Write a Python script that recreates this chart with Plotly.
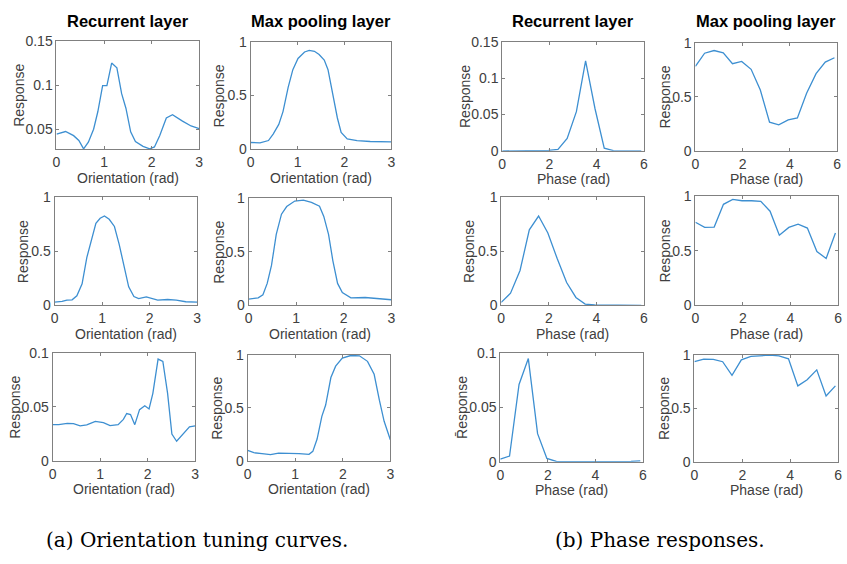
import plotly.graph_objects as go

W, H = 847, 564

# ---------------- data ----------------
# Orientation tuning curves (a)
rec_o1_x = [0, 0.19, 0.36, 0.47, 0.57, 0.67, 0.78, 0.87, 0.97, 1.06, 1.16, 1.27, 1.37, 1.46, 1.56, 1.66, 1.82, 1.96, 2.06, 2.17, 2.31, 2.44, 2.65, 2.83, 3.0]
rec_o1_y = [0.0445, 0.0474, 0.0427, 0.0372, 0.0277, 0.0353, 0.050, 0.0701, 0.0995, 0.0995, 0.125, 0.1196, 0.0903, 0.0738, 0.0471, 0.0361, 0.0306, 0.0277, 0.0299, 0.0427, 0.0628, 0.0665, 0.0592, 0.0537, 0.0507]

max_o1_x = [0, 0.2, 0.38, 0.48, 0.6, 0.69, 0.8, 0.9, 1.01, 1.15, 1.25, 1.36, 1.46, 1.57, 1.65, 1.74, 1.85, 1.93, 2.06, 2.27, 2.55, 3.0]
max_o1_y = [0.06, 0.057, 0.078, 0.139, 0.229, 0.349, 0.575, 0.741, 0.846, 0.907, 0.922, 0.913, 0.883, 0.831, 0.741, 0.53, 0.289, 0.154, 0.093, 0.078, 0.069, 0.066]

rec_o2_x = [0, 0.16, 0.26, 0.37, 0.47, 0.58, 0.68, 0.78, 0.87, 0.96, 1.05, 1.15, 1.26, 1.36, 1.46, 1.56, 1.67, 1.77, 1.93, 2.03, 2.17, 2.38, 2.56, 2.76, 3.0]
rec_o2_y = [0.03, 0.036, 0.048, 0.051, 0.088, 0.2, 0.444, 0.625, 0.76, 0.807, 0.828, 0.798, 0.731, 0.565, 0.353, 0.172, 0.082, 0.063, 0.079, 0.066, 0.048, 0.054, 0.048, 0.033, 0.03]

max_o2_x = [0, 0.2, 0.3, 0.39, 0.48, 0.58, 0.69, 0.8, 0.97, 1.15, 1.32, 1.49, 1.58, 1.68, 1.77, 1.87, 1.97, 2.15, 2.45, 2.73, 3.0]
max_o2_y = [0.058, 0.07, 0.098, 0.205, 0.373, 0.664, 0.853, 0.924, 0.976, 0.985, 0.963, 0.927, 0.832, 0.664, 0.419, 0.205, 0.119, 0.07, 0.073, 0.064, 0.052]

rec_o3_x = [0, 0.13, 0.31, 0.44, 0.58, 0.72, 0.9, 1.07, 1.21, 1.38, 1.49, 1.56, 1.64, 1.73, 1.83, 1.94, 2.03, 2.11, 2.22, 2.32, 2.42, 2.51, 2.61, 2.74, 2.88, 3.0]
rec_o3_y = [0.0335, 0.0335, 0.0347, 0.0344, 0.0323, 0.0332, 0.0366, 0.0353, 0.0326, 0.0335, 0.0384, 0.0438, 0.0429, 0.0335, 0.0474, 0.051, 0.048, 0.0625, 0.0943, 0.0921, 0.0625, 0.0248, 0.0181, 0.0248, 0.0314, 0.0323]

max_o3_x = [0, 0.13, 0.3, 0.48, 0.65, 0.83, 1.08, 1.29, 1.37, 1.46, 1.56, 1.64, 1.75, 1.85, 1.99, 2.17, 2.35, 2.52, 2.66, 2.77, 2.87, 3.0]
max_o3_y = [0.098, 0.076, 0.067, 0.058, 0.073, 0.073, 0.067, 0.061, 0.089, 0.205, 0.419, 0.526, 0.786, 0.893, 0.969, 0.994, 0.991, 0.939, 0.817, 0.572, 0.373, 0.199]

# Phase responses (b)
phase_x = [0, 0.39, 0.79, 1.18, 1.57, 1.96, 2.36, 2.75, 3.14, 3.53, 3.93, 4.32, 4.71, 5.11, 5.50, 5.89]
rec_p1_y = [0, 0, 0, 0, 0, 0.0005, 0.002, 0.017, 0.054, 0.124, 0.058, 0.0036, 0.0003, 0, 0, 0]
max_p1_y = [0.784, 0.905, 0.93, 0.909, 0.808, 0.829, 0.756, 0.564, 0.265, 0.241, 0.287, 0.305, 0.534, 0.716, 0.823, 0.863]
rec_p2_y = [0.027, 0.112, 0.323, 0.70, 0.828, 0.67, 0.429, 0.211, 0.073, 0.012, 0.003, 0.001, 0, 0, 0, 0]
max_p2_y = [0.763, 0.716, 0.719, 0.928, 0.973, 0.961, 0.961, 0.955, 0.865, 0.644, 0.716, 0.746, 0.71, 0.494, 0.431, 0.665]
rec_p3_y = [0.0024, 0.0052, 0.071, 0.0948, 0.0258, 0.003, 0.0003, 0, 0, 0, 0, 0, 0, 0, 0.0003, 0.0008]
max_p3_y = [0.936, 0.96, 0.957, 0.936, 0.808, 0.954, 0.985, 0.988, 0.997, 0.991, 0.963, 0.71, 0.768, 0.86, 0.616, 0.71]

orient_ticks = [0, 1, 2, 3]
phase_ticks = [0, 2, 4, 6]
col_titles = ["Recurrent layer", "Max pooling layer", "Recurrent layer", "Max pooling layer"]
captions = ["(a) Orientation tuning curves.", "(b) Phase responses."]

# ---------------- layout helpers ----------------
LINE = "#3d8fd1"
AX = "#808080"
TXT = "#404040"
FONT = "Liberation Sans, Arial, sans-serif"


def px(x):
    return x / W


def py(y):
    return 1 - y / H


# pixel boxes (left, right, top, bottom)
boxes = [
    [(53, 197, 34, 145), (249, 391, 35, 145), (503, 646, 35, 147), (698, 841, 36, 147)],
    [(51, 195, 195, 306), (247, 391, 196, 306), (502, 646, 195, 306), (698, 842, 194, 306)],
    [(49, 193, 355, 466), (246, 390, 357, 466), (501, 645, 355, 467), (697, 842, 357, 467)],
]
ylab_x = [[15, 218, 466, 667], [20, 217, 470, 667], [11, 215, 463, 667]]

panels = [
    [(rec_o1_x, rec_o1_y, [0.0277, 0.15], [0.05, 0.1, 0.15], ["0.05", "0.1", "0.15"], "Response"),
     (max_o1_x, max_o1_y, [0, 1], [0, 0.5, 1], ["0", "0.5", "1"], "Response"),
     (phase_x, rec_p1_y, [0, 0.15], [0, 0.05, 0.1, 0.15], ["0", "0.05", "0.1", "0.15"], "Response"),
     (phase_x, max_p1_y, [0, 1], [0, 0.5, 1], ["0", "0.5", "1"], "Response")],
    [(rec_o2_x, rec_o2_y, [0, 1], [0, 0.5, 1], ["0", "0.5", "1"], "Response"),
     (max_o2_x, max_o2_y, [0, 1], [0, 0.5, 1], ["0", "0.5", "1"], "Response"),
     (phase_x, rec_p2_y, [0, 1], [0, 0.5, 1], ["0", "0.5", "1"], "Response"),
     (phase_x, max_p2_y, [0, 1], [0, 0.5, 1], ["0", "0.5", "1"], "Response")],
    [(rec_o3_x, rec_o3_y, [0, 0.1], [0, 0.05, 0.1], ["0", "0.05", "0.1"], "Response"),
     (max_o3_x, max_o3_y, [0, 1], [0, 0.5, 1], ["0", "0.5", "1"], "Response"),
     (phase_x, rec_p3_y, [0, 0.1], [0, 0.05, 0.1], ["0", "0.05", "0.1"], "R\u0304esponse"),
     (phase_x, max_p3_y, [0, 1], [0, 0.5, 1], ["0", "0.5", "1"], "Response")],
]

fig = go.Figure()
annotations = []
n = 0
for r in range(3):
    for c in range(4):
        n += 1
        xs, ys, yr, yt, ytt, ylab = panels[r][c]
        L, R, T, B = boxes[r][c]
        xa = "xaxis" if n == 1 else f"xaxis{n}"
        ya = "yaxis" if n == 1 else f"yaxis{n}"
        xref = "x" if n == 1 else f"x{n}"
        yref = "y" if n == 1 else f"y{n}"
        fig.add_trace(go.Scatter(x=xs, y=ys, mode="lines", xaxis=xref, yaxis=yref,
                                 line=dict(color=LINE, width=1.3), showlegend=False,
                                 hoverinfo="skip"))
        is_orient = c < 2
        ticks_x = orient_ticks if is_orient else phase_ticks
        common = dict(showline=True, linecolor=AX, linewidth=1, mirror="ticks",
                      ticks="inside", ticklen=3, tickcolor=AX, showgrid=False,
                      zeroline=False, tickfont=dict(family=FONT, size=14, color=TXT))
        fig.layout[xa] = dict(domain=[px(L), px(R)], anchor=yref,
                              range=[0, 3] if is_orient else [0, 6],
                              tickvals=ticks_x, ticktext=[str(v) for v in ticks_x],
                              **common)
        fig.layout[ya] = dict(domain=[py(B), py(T)], anchor=xref,
                              range=yr, tickvals=yt, ticktext=ytt, **common)
        annotations.append(dict(text="Orientation (rad)" if is_orient else "Phase (rad)",
                                x=px((L + R) / 2), y=py(B + 29.5), xref="paper", yref="paper",
                                showarrow=False, xanchor="center", yanchor="middle",
                                font=dict(family=FONT, size=14, color=TXT)))
        annotations.append(dict(text=ylab, x=px(ylab_x[r][c]), y=py((T + B) / 2),
                                xref="paper", yref="paper", textangle=-90, showarrow=False,
                                xanchor="center", yanchor="middle",
                                font=dict(family=FONT, size=14, color=TXT)))
        if r == 0:
            annotations.append(dict(text="<b>" + col_titles[c] + "</b>", x=px((L + R) / 2),
                                    y=py(13.5), xref="paper", yref="paper", showarrow=False,
                                    xanchor="center", yanchor="middle",
                                    font=dict(family=FONT, size=16.5, color="#000000")))

for text, cx in zip(captions, [195, 662]):
    annotations.append(dict(text=text, x=px(cx), y=py(548), xref="paper", yref="paper",
                            showarrow=False, xanchor="center", yanchor="middle",
                            font=dict(family="DejaVu Serif, serif", size=20, color="#000000")))

fig.update_layout(width=W, height=H, margin=dict(l=0, r=0, t=0, b=0),
                  paper_bgcolor="white", plot_bgcolor="white", annotations=annotations,
                  hovermode=False)

# remove the default 8px page margin so the figure fills the 847x564 window exactly
fig.write_html("out.html", config={"displayModeBar": False},
               post_script="document.body.style.margin='0';document.body.style.overflow='hidden';")
